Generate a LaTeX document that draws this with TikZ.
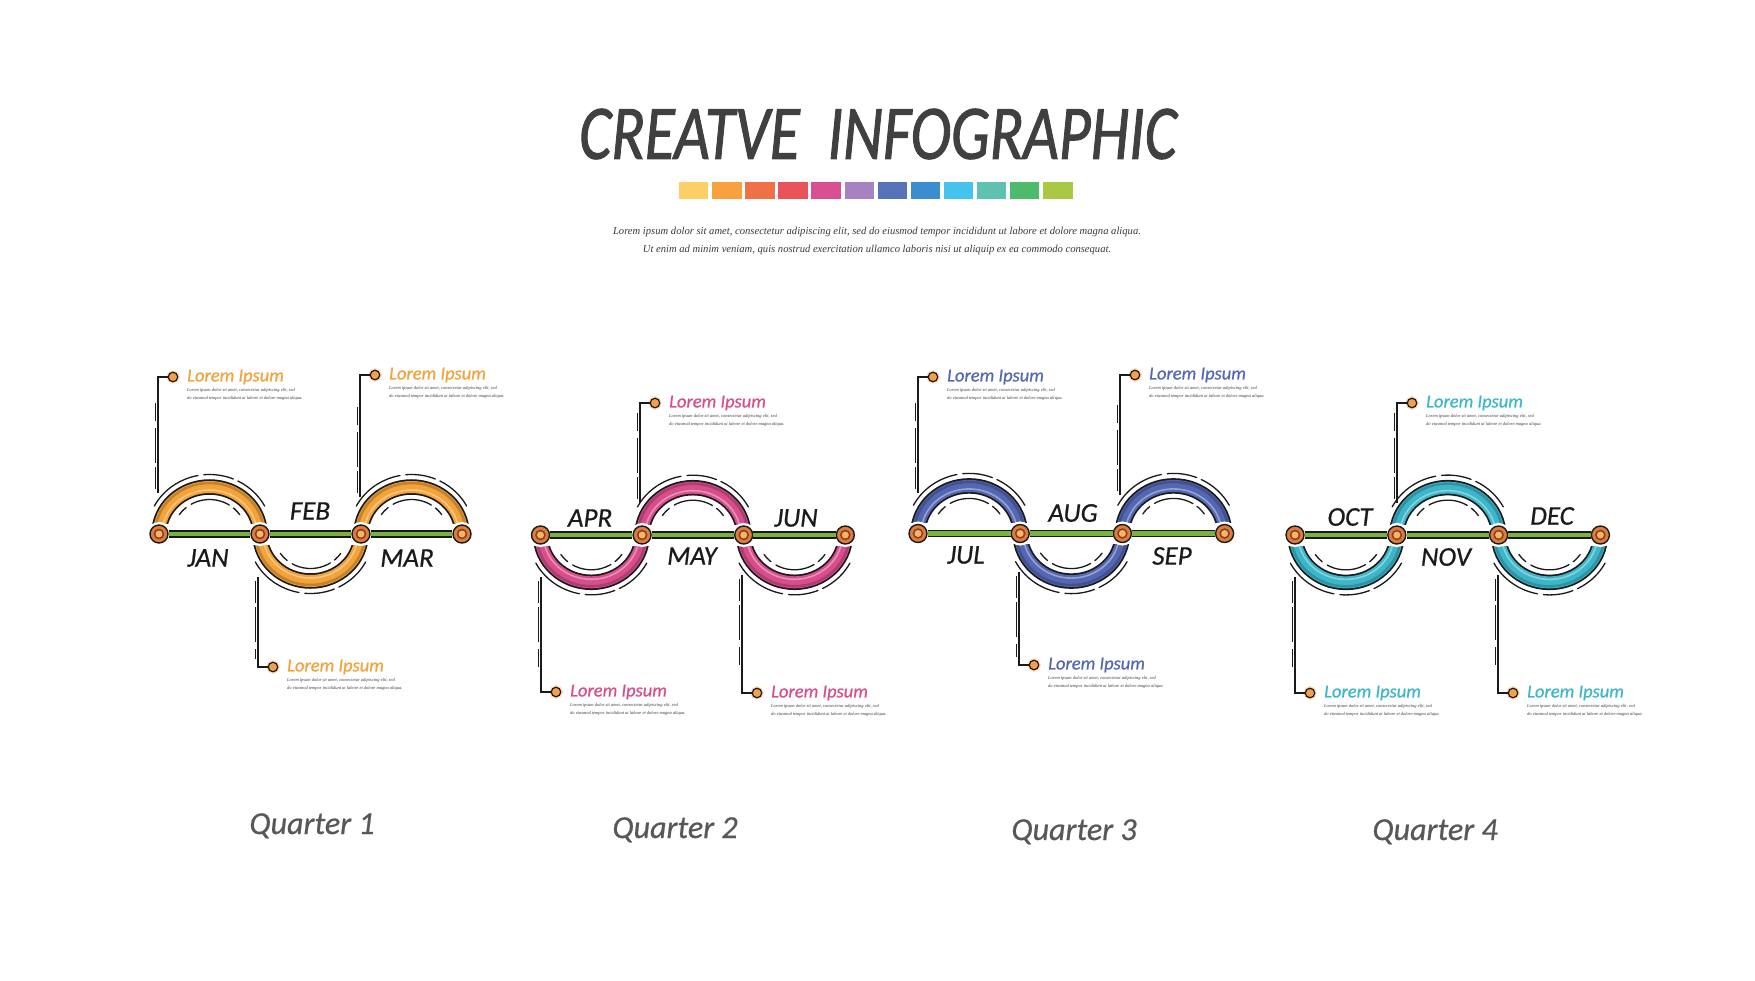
\documentclass[tikz,border=0pt]{standalone}
\usepackage{fontspec}
\usepackage{graphicx}
\setmainfont{Carlito}
\newfontfamily\handfont{Carlito}[FakeBold=0.6]
\newfontfamily\titlefont{Carlito}[FakeBold=1.4]
\newfontfamily\lipfont{Liberation Serif}
\usetikzlibrary{calc}
\definecolor{qone}{HTML}{F2A33A}
\definecolor{qtwo}{HTML}{D84E8D}
\definecolor{qthree}{HTML}{5467B3}
\definecolor{qfour}{HTML}{3CB7CA}
\definecolor{lineg}{HTML}{7BB043}
\definecolor{nodeor}{HTML}{DD7C3C}
\definecolor{nodein}{HTML}{F5B46C}
\definecolor{nodering}{HTML}{8E3F1E}
\definecolor{dotor}{HTML}{F3A04B}
\definecolor{ink}{HTML}{1A1A1A}
\definecolor{titlegray}{HTML}{404040}
\definecolor{qgray}{HTML}{585858}
\definecolor{bodygray}{HTML}{3A3A3A}
\definecolor{swA}{HTML}{FDD065}
\definecolor{swB}{HTML}{F9A03F}
\definecolor{swC}{HTML}{F07048}
\definecolor{swD}{HTML}{E9545A}
\definecolor{swE}{HTML}{DA4F91}
\definecolor{swF}{HTML}{A782C0}
\definecolor{swG}{HTML}{5772B8}
\definecolor{swH}{HTML}{3A8ECF}
\definecolor{swI}{HTML}{45C2EE}
\definecolor{swJ}{HTML}{5DC2B2}
\definecolor{swK}{HTML}{4DBA6C}
\definecolor{swL}{HTML}{A9C843}
\def\qr{50.5}
\tikzset{
  monthdot/.style={circle, minimum size=18pt, inner sep=0pt, fill=nodeor, draw=ink, line width=1.4pt,
    preaction={draw=white, line width=6pt},
    path picture={\fill[nodering] (path picture bounding box.center) circle (5.3pt);
                  \fill[nodein] (path picture bounding box.center) circle (3.5pt);}},
  greenbar/.style={draw=ink, line width=1.3pt, double=lineg, double distance=4.8pt},
  month/.style={font=\handfont\itshape\fontsize{27}{27}\selectfont, text=ink, inner sep=0pt},
  cline/.style={draw=ink, line width=1.5pt},
  ghost/.style={draw=ink, line width=0.8pt, shorten >=8pt, shorten <=4pt,
    dash pattern=on 22pt off 4pt on 35pt off 7pt on 18pt off 40pt},
  cdot/.style={circle, minimum size=9.5pt, inner sep=0pt, fill=dotor, draw=ink, line width=1.2pt,
    preaction={draw=dotor!35, line width=4pt}},
  heading/.style={font=\handfont\itshape\fontsize{18.5}{18.5}\selectfont, inner sep=0pt, anchor=west},
  body/.style={font=\lipfont\itshape\fontsize{4.5}{8.6}\selectfont, text=bodygray, inner sep=0pt,
    anchor=north west, align=left},
  sketch/.style={draw=ink, line width=1.3pt, line cap=round},
  quarter/.style={font=\handfont\itshape\fontsize{32}{32}\selectfont, text=qgray, inner sep=0pt, anchor=base},
  swatch/.style={minimum width=29.4pt, minimum height=17pt, inner sep=0pt, draw=none},
}
% #1 from coord, #2 to coord, #3 colour, #4 direction (1 up, -1 down)
\newcommand\bandarc[4]{%
  \begin{scope}
    \clip ([xshift=-30pt,yshift={#4*11pt}]#1) rectangle ([xshift=30pt,yshift={#4*80pt}]#2);
    \draw[ink, line width=15.5pt] (#1) arc[start angle=180, end angle={180-#4*180}, x radius=\qr, y radius={\qr-3.5}];
    \draw[#3, line width=12pt] (#1) arc[start angle=180, end angle={180-#4*180}, x radius=\qr, y radius={\qr-3.5}];
    \draw[#3!80!black, line width=2.6pt] ([xshift=-4pt]#1) arc[start angle=180, end angle={180-#4*180}, x radius={\qr+4}, y radius={\qr+0.5}];
    \draw[#3!62!white, line width=1.6pt] ([xshift=3pt]#1) arc[start angle=180, end angle={180-#4*180}, x radius={\qr-3}, y radius={\qr-6.5}];
  \end{scope}
  \draw[sketch, dash pattern=on 55pt off 6pt on 30pt off 5pt on 40pt off 200pt]
    ($(#1)!0.5!(#2)$) ++({180-#4*28}:{\qr+12} and {\qr+9}) arc[start angle={180-#4*28}, end angle={180-#4*152}, x radius={\qr+12}, y radius={\qr+9}];
  \draw[sketch, dash pattern=on 10pt off 6pt on 40pt off 5pt on 14pt off 200pt]
    ($(#1)!0.5!(#2)$) ++({180-#4*34}:{\qr-14} and {\qr-16}) arc[start angle={180-#4*34}, end angle={180-#4*146}, x radius={\qr-14}, y radius={\qr-16}];
}
% #1 prefix, #2 x0, #3 y, #4 colour, #5 dir of arcs 1 and 3, #6 dir of arc 2
\newcommand\quarterrow[6]{%
  \coordinate (#1p1) at (#2,-#3);
  \coordinate (#1p2) at ({#2+2*\qr},-#3);
  \coordinate (#1p3) at ({#2+4*\qr},-#3);
  \coordinate (#1p4) at ({#2+6*\qr},-#3);
  \bandarc{#1p1}{#1p2}{#4}{#5}
  \bandarc{#1p2}{#1p3}{#4}{#6}
  \bandarc{#1p3}{#1p4}{#4}{#5}
}
\newcommand\monthdots[1]{%
  \node[monthdot] (#1n1) at (#1p1) {};
  \node[monthdot] (#1n2) at (#1p2) {};
  \node[monthdot] (#1n3) at (#1p3) {};
  \node[monthdot] (#1n4) at (#1p4) {};
  \draw[greenbar] (#1n1) -- (#1n2);
  \draw[greenbar] (#1n2) -- (#1n3);
  \draw[greenbar] (#1n3) -- (#1n4);
}
% #1 name, #2 x, #3 y start, #4 y head, #5 colour
\newcommand\callout[5]{%
  \coordinate (#1s) at (#2,-#3);
  \coordinate (#1k) at (#2,-#4);
  \node[cdot] (#1d) at ({#2+15},-#4) {};
  \draw[cline] (#1s) -- (#1k) -- (#1d);
  \draw[ghost] ([xshift=-3pt]#1s) -- ([xshift=-3pt]#1k);
  \node[heading, text=#5] (#1h) at ({#2+29},-#4) {Lorem Ipsum};
  \node[body] (#1b) at ({#2+29},{-#4-11}) {Lorem ipsum dolor sit amet, consectetur adipiscing elit, sed\\do eiusmod tempor incididunt ut labore et dolore magna aliqua.};
}
\begin{document}
\begin{tikzpicture}[x=1pt,y=1pt]
\fill[white] (0,0) rectangle (1755,-980);
\useasboundingbox (0,0) rectangle (1755,-980);

% title block
\node[font=\titlefont\itshape\fontsize{77}{77}\selectfont, text=titlegray, inner sep=0pt] (title) at (878,-134)
  {\scalebox{0.8}[1]{CREATVE\ \ INFOGRAPHIC}};
\foreach \c [count=\i] in {swA,swB,swC,swD,swE,swF,swG,swH,swI,swJ,swK,swL}
  \node[swatch, fill=\c] (sq\i) at ({679+14.7+33.1*(\i-1)},-190.5) {};
\node[font=\lipfont\itshape\fontsize{10.6}{18}\selectfont, text=bodygray, align=center, inner sep=0pt] (subtitle) at (877,-241)
  {Lorem ipsum dolor sit amet, consectetur adipiscing elit, sed do eiusmod tempor incididunt ut labore et dolore magna aliqua.\\
   Ut enim ad minim veniam, quis nostrud exercitation ullamco laboris nisi ut aliquip ex ea commodo consequat.};

% Quarter 1
\def\qr{50.5}
\quarterrow{q1}{159}{534}{qone}{1}{-1}
\callout{q1a}{158}{493}{377}{qone}
\callout{q1b}{360}{497}{375}{qone}
\callout{q1c}{258}{577}{667}{qone}
\monthdots{q1}
\node[month] (q1jan) at (208,-558) {JAN};
\node[month] (q1feb) at (310,-511) {FEB};
\node[month] (q1mar) at (407,-558) {MAR};
\node[quarter] (q1lab) at (312,-834) {Quarter 1};

% Quarter 2
\def\qr{50.8}
\quarterrow{q2}{540.5}{535}{qtwo}{-1}{1}
\callout{q2a}{640}{503}{403}{qtwo}
\callout{q2b}{541}{577}{692}{qtwo}
\callout{q2c}{742}{575}{693}{qtwo}
\monthdots{q2}
\node[month] (q2apr) at (590,-518) {APR};
\node[month] (q2may) at (692,-556) {MAY};
\node[month] (q2jun) at (796,-518) {JUN};
\node[quarter] (q2lab) at (675,-838) {Quarter 2};

% Quarter 3
\def\qr{51.1}
\quarterrow{q3}{918}{533.5}{qthree}{1}{-1}
\callout{q3a}{918}{493}{377}{qthree}
\callout{q3b}{1120}{495}{375}{qthree}
\callout{q3c}{1019}{572}{665}{qthree}
\monthdots{q3}
\node[month] (q3jul) at (966,-555) {JUL};
\node[month] (q3aug) at (1073,-513) {AUG};
\node[month] (q3sep) at (1172,-556) {SEP};
\node[quarter] (q3lab) at (1074,-840) {Quarter 3};

% Quarter 4
\def\qr{50.9}
\quarterrow{q4}{1295}{535}{qfour}{-1}{1}
\callout{q4a}{1397}{503}{403}{qfour}
\callout{q4b}{1295}{577}{693}{qfour}
\callout{q4c}{1498}{575}{693}{qfour}
\monthdots{q4}
\node[month] (q4oct) at (1350,-517) {OCT};
\node[month] (q4nov) at (1446,-557) {NOV};
\node[month] (q4dec) at (1552,-516) {DEC};
\node[quarter] (q4lab) at (1435,-840) {Quarter 4};
\end{tikzpicture}
\end{document}
